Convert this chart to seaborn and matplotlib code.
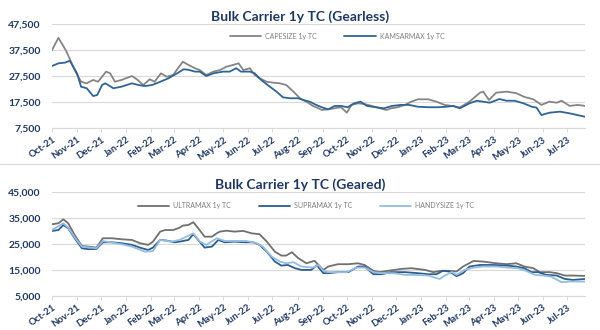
import matplotlib
matplotlib.use("Agg")
import matplotlib.pyplot as plt
import matplotlib.dates as mdates
from matplotlib.lines import Line2D
import pandas as pd
import seaborn as sns

# ---------------- data ----------------
cape_dates = ["2021-10-01", "2021-10-09", "2021-10-19", "2021-10-29", "2021-11-06", "2021-11-13",
              "2021-11-21", "2021-11-27", "2021-12-07", "2021-12-12", "2021-12-18", "2021-12-26",
              "2022-01-08", "2022-01-14", "2022-01-22", "2022-01-30", "2022-02-05", "2022-02-13",
              "2022-02-20", "2022-02-28", "2022-03-06", "2022-03-12", "2022-03-19", "2022-03-27",
              "2022-04-02", "2022-04-10", "2022-04-19", "2022-04-27", "2022-05-05", "2022-05-13",
              "2022-05-20", "2022-05-26", "2022-06-03", "2022-06-09", "2022-06-15", "2022-06-24",
              "2022-07-02", "2022-07-10", "2022-07-18", "2022-07-27", "2022-08-04", "2022-08-12",
              "2022-08-20", "2022-08-27", "2022-08-31", "2022-09-08", "2022-09-16", "2022-09-24",
              "2022-10-01", "2022-10-07", "2022-10-15", "2022-10-23", "2022-11-01", "2022-11-11",
              "2022-11-19", "2022-11-25", "2022-12-03", "2022-12-12", "2022-12-20", "2022-12-28",
              "2023-01-10", "2023-01-20", "2023-01-30", "2023-02-08", "2023-02-18", "2023-03-02",
              "2023-03-15", "2023-03-19", "2023-03-26", "2023-04-04", "2023-04-17", "2023-04-29",
              "2023-05-09", "2023-05-20", "2023-05-30", "2023-06-09", "2023-06-18", "2023-06-24",
              "2023-07-04", "2023-07-14", "2023-07-23"]
cape_vals = [37600, 42300, 37000, 29900, 25400, 24800,
             26100, 25400, 29300, 28650, 25400, 26100,
             27600, 26350, 24150, 26350, 25400, 28650,
             27350, 28000, 30600, 33100, 31850, 30600,
             29900, 28000, 29300, 29900, 31200, 31850,
             32500, 29900, 30600, 28000, 26700, 25400,
             25050, 24800, 24150, 21600, 19050, 17750,
             16100, 15200, 14550, 14800, 15200, 15600,
             13500, 16500, 17100, 16850, 16100, 15200,
             14550, 15200, 15600, 16500, 17750, 18650,
             18650, 17750, 16500, 16100, 15500, 17750,
             21200, 21600, 18400, 21200, 21600, 21000,
             19550, 18650, 16500, 17750, 17350, 18100,
             16100, 16500, 16100]

kamsar_dates = ["2021-10-01", "2021-10-09", "2021-10-17", "2021-10-23", "2021-11-01", "2021-11-06",
                "2021-11-13", "2021-11-21", "2021-11-26", "2021-12-02", "2021-12-06", "2021-12-16",
                "2021-12-26", "2022-01-08", "2022-01-16", "2022-01-24", "2022-02-02", "2022-02-12",
                "2022-02-22", "2022-03-05", "2022-03-13", "2022-03-19", "2022-03-27", "2022-04-02",
                "2022-04-10", "2022-04-19", "2022-05-01", "2022-05-09", "2022-05-17", "2022-05-23",
                "2022-06-03", "2022-06-09", "2022-06-17", "2022-06-25", "2022-07-06", "2022-07-14",
                "2022-07-23", "2022-08-02", "2022-08-08", "2022-08-16", "2022-08-24", "2022-08-31",
                "2022-09-08", "2022-09-16", "2022-09-24", "2022-10-02", "2022-10-10", "2022-10-18",
                "2022-10-26", "2022-11-06", "2022-11-16", "2022-11-26", "2022-12-07", "2022-12-17",
                "2022-12-28", "2023-01-10", "2023-01-22", "2023-02-01", "2023-02-10", "2023-02-18",
                "2023-03-02", "2023-03-11", "2023-03-27", "2023-04-08", "2023-04-17", "2023-04-27",
                "2023-05-08", "2023-05-18", "2023-05-24", "2023-05-30", "2023-06-09", "2023-06-22",
                "2023-07-04", "2023-07-23"]
kamsar_vals = [31450, 32500, 32750, 33500, 28650, 23500,
               22900, 19900, 20300, 24150, 24800, 22900,
               23500, 24800, 24150, 23750, 24150, 25400,
               26700, 28650, 30200, 30000, 29300, 29300,
               27600, 28650, 29300, 29300, 30600, 29300,
               29300, 28650, 26100, 24150, 21600, 19400,
               19050, 19050, 18400, 17750, 16500, 15600,
               14800, 16100, 16100, 15600, 17100, 17750,
               16100, 15600, 15200, 16100, 16500, 16500,
               15800, 15600, 15600, 15800, 16100, 15200,
               17100, 18100, 17350, 18750, 18100, 18100,
               17100, 15800, 15450, 12600, 13500, 13900,
               13250, 11950]

ultra_dates = ["2021-10-01", "2021-10-09", "2021-10-15", "2021-10-21", "2021-10-29", "2021-11-07",
               "2021-11-15", "2021-11-25", "2021-12-03", "2021-12-14", "2021-12-26", "2022-01-08",
               "2022-01-18", "2022-01-28", "2022-02-03", "2022-02-12", "2022-02-18", "2022-02-28",
               "2022-03-08", "2022-03-12", "2022-03-19", "2022-03-25", "2022-03-31", "2022-04-08",
               "2022-04-17", "2022-04-23", "2022-04-27", "2022-05-05", "2022-05-15", "2022-05-26",
               "2022-06-05", "2022-06-15", "2022-06-24", "2022-07-04", "2022-07-12", "2022-07-18",
               "2022-07-25", "2022-08-02", "2022-08-12", "2022-08-22", "2022-09-02", "2022-09-08",
               "2022-09-20", "2022-10-03", "2022-10-15", "2022-10-23", "2022-11-03", "2022-11-11",
               "2022-11-21", "2022-12-08", "2022-12-20", "2023-01-06", "2023-01-16", "2023-01-26",
               "2023-02-05", "2023-02-14", "2023-02-22", "2023-03-07", "2023-03-19", "2023-04-04",
               "2023-04-17", "2023-04-29", "2023-05-09", "2023-05-20", "2023-05-28", "2023-06-09",
               "2023-06-18", "2023-06-28", "2023-07-08", "2023-07-23"]
ultra_vals = [32500, 32900, 34400, 32900, 28400, 24200,
              23950, 23550, 27150, 27150, 26750, 26500,
              25250, 24600, 25850, 29700, 30300, 30300,
              31200, 32000, 32250, 33300, 31000, 27750,
              27750, 29050, 29700, 30050, 29700, 29950,
              29050, 28700, 25850, 22000, 20500, 20500,
              21800, 19500, 17550, 18500, 15000, 16300,
              17200, 17200, 17550, 16900, 14650, 14150,
              14650, 15400, 15650, 15000, 14150, 14650,
              14650, 14400, 16300, 18450, 18200, 17550,
              17200, 17550, 16300, 15650, 14150, 14150,
              13750, 12850, 12850, 12700]

supra_dates = ["2021-10-01", "2021-10-09", "2021-10-15", "2021-10-21", "2021-10-29", "2021-11-07",
               "2021-11-15", "2021-11-25", "2021-12-03", "2021-12-14", "2021-12-26", "2022-01-08",
               "2022-01-18", "2022-01-28", "2022-02-03", "2022-02-12", "2022-02-20", "2022-03-02",
               "2022-03-08", "2022-03-19", "2022-03-25", "2022-03-31", "2022-04-08", "2022-04-17",
               "2022-04-25", "2022-05-03", "2022-05-15", "2022-05-28", "2022-06-07", "2022-06-15",
               "2022-06-24", "2022-07-04", "2022-07-12", "2022-07-20", "2022-07-29", "2022-08-06",
               "2022-08-18", "2022-08-25", "2022-09-02", "2022-09-08", "2022-09-20", "2022-10-03",
               "2022-10-15", "2022-10-23", "2022-11-03", "2022-11-13", "2022-11-25", "2022-12-12",
               "2022-12-28", "2023-01-10", "2023-01-20", "2023-01-28", "2023-02-05", "2023-02-14",
               "2023-02-22", "2023-03-02", "2023-03-15", "2023-03-31", "2023-04-17", "2023-04-29",
               "2023-05-09", "2023-05-18", "2023-05-26", "2023-06-05", "2023-06-18", "2023-06-28",
               "2023-07-08", "2023-07-23"]
supra_vals = [29950, 30300, 32250, 31000, 27150, 23300,
              22950, 23050, 25600, 25600, 25250, 24600,
              23550, 22650, 23550, 26500, 26250, 25600,
              25850, 26500, 28700, 26500, 23550, 23950,
              26500, 25600, 25850, 25600, 25600, 24600,
              22000, 18200, 16650, 16900, 15650, 15000,
              15000, 16800, 13750, 13750, 14150, 14150,
              16300, 16300, 13350, 13350, 14150, 14150,
              13750, 13350, 13350, 14650, 14400, 12600,
              13750, 16300, 16900, 16900, 16650, 16300,
              15650, 14150, 14150, 13100, 12850, 11550,
              11150, 11550]

handy_dates = ["2021-10-01", "2021-10-15", "2021-10-21", "2021-10-29", "2021-11-07", "2021-11-25",
               "2021-12-03", "2021-12-26", "2022-01-08", "2022-01-24", "2022-02-03", "2022-02-12",
               "2022-02-26", "2022-03-08", "2022-03-25", "2022-04-02", "2022-04-10", "2022-04-23",
               "2022-05-03", "2022-05-15", "2022-05-30", "2022-06-11", "2022-06-19", "2022-06-30",
               "2022-07-10", "2022-07-18", "2022-07-27", "2022-08-06", "2022-08-20", "2022-08-27",
               "2022-09-02", "2022-09-08", "2022-09-20", "2022-10-01", "2022-10-13", "2022-10-23",
               "2022-11-03", "2022-11-13", "2022-11-29", "2022-12-12", "2022-12-24", "2023-01-10",
               "2023-01-18", "2023-01-24", "2023-02-01", "2023-02-08", "2023-02-14", "2023-02-24",
               "2023-03-07", "2023-03-19", "2023-04-04", "2023-04-19", "2023-05-01", "2023-05-11",
               "2023-05-22", "2023-06-01", "2023-06-11", "2023-06-24", "2023-07-04", "2023-07-23"]
handy_vals = [30300, 32900, 31200, 27500, 23950, 23300,
              26100, 24850, 23950, 22000, 22250, 26500,
              25850, 26500, 29050, 25850, 24600, 27150,
              26100, 26100, 26100, 25250, 23950, 20100,
              18200, 17550, 17950, 16300, 15900, 16900,
              14650, 14150, 14150, 14150, 15900, 15900,
              14150, 13750, 13750, 13100, 13100, 12850,
              12050, 11550, 13100, 14150, 13100, 15000,
              15900, 16300, 16300, 15900, 15650, 14650,
              13100, 12850, 12450, 10300, 10550, 10550]

top_title = "Bulk Carrier 1y TC (Gearless)"
bottom_title = "Bulk Carrier 1y TC (Geared)"
top_names = ["CAPESIZE 1y TC", "KAMSARMAX 1y TC"]
bottom_names = ["ULTRAMAX 1y TC", "SUPRAMAX 1y TC", "HANDYSIZE 1y TC"]
top_yticks = [7500, 17500, 27500, 37500, 47500]
bottom_yticks = [5000, 15000, 25000, 35000, 45000]

top_colors = ["#858585", "#2f6496"]
bottom_colors = ["#707070", "#2c5d8f", "#93bde3"]

NAVY = "#1f3864"


def long_frame(names, dates_list, vals_list):
    frames = []
    for n, d, v in zip(names, dates_list, vals_list):
        frames.append(pd.DataFrame({"date": pd.to_datetime(d), "value": v, "series": n}))
    return pd.concat(frames, ignore_index=True)


df_top = long_frame(top_names, [cape_dates, kamsar_dates], [cape_vals, kamsar_vals])
df_bot = long_frame(bottom_names, [ultra_dates, supra_dates, handy_dates],
                    [ultra_vals, supra_vals, handy_vals])

sns.set_theme(style="white")
plt.rcParams["font.family"] = ["Lato", "DejaVu Sans"]

fig = plt.figure(figsize=(6, 3.3), dpi=100)
W, H = 600.0, 330.0
ax1 = fig.add_axes([52 / W, 1 - 128.3 / H, 533 / W, 104.0 / H])
ax2 = fig.add_axes([52 / W, 1 - 296.0 / H, 533 / W, 104.3 / H])

x0 = pd.Timestamp("2021-10-01")
x1 = pd.Timestamp("2023-07-23")


def style(ax, df, names, colors, yticks, title, title_y, legend_center, legend_y):
    sns.lineplot(data=df, x="date", y="value", hue="series", hue_order=names,
                 palette=colors, ax=ax, linewidth=1.3, legend=False, estimator=None,
                 sort=True)
    ax.set_xlim(x0, x1)
    ax.set_ylim(yticks[0], yticks[-1])
    ax.set_yticks(yticks)
    ax.set_yticklabels([f"{t:,}" for t in yticks], fontsize=7.5, fontweight="bold", color=NAVY)
    ax.grid(axis="y", color="#d9d9d9", linewidth=0.8)
    ax.set_axisbelow(True)
    for s in ["top", "right", "left"]:
        ax.spines[s].set_visible(False)
    ax.spines["bottom"].set_color("#d9d9d9")
    ax.spines["bottom"].set_linewidth(0.8)
    ax.xaxis.set_major_locator(mdates.MonthLocator())
    ax.xaxis.set_major_formatter(mdates.DateFormatter("%b-%y"))
    ax.tick_params(axis="x", length=3, width=0.7, color="#d9d9d9", pad=2, bottom=True)
    ax.tick_params(axis="y", length=0, pad=8)
    for lab in ax.get_xticklabels():
        lab.set_rotation(35)
        lab.set_ha("right")
        lab.set_rotation_mode("anchor")
        lab.set_fontsize(6.8)
        lab.set_fontweight("bold")
        lab.set_color(NAVY)
    ax.set_xlabel("")
    ax.set_ylabel("")
    fig.text(0.5, title_y, title, ha="center", va="center", fontsize=10,
             fontweight="bold", color=NAVY)
    handles = [Line2D([0], [0], color=c, lw=1.3) for c in colors]
    fig.legend(handles, names, loc="center", bbox_to_anchor=(legend_center, legend_y),
               ncol=len(names), frameon=False, fontsize=5, labelcolor="#7f7f7f",
               handlelength=4.5, columnspacing=4.0, handletextpad=0.6)


style(ax1, df_top, top_names, top_colors, top_yticks, top_title, 1 - 17 / H, 337 / W, 1 - 36 / H)
style(ax2, df_bot, bottom_names, bottom_colors, bottom_yticks, bottom_title, 1 - 185 / H, 306 / W, 1 - 205.5 / H)

# thin separator between the two panels
fig.add_artist(Line2D([0, 1], [1 - 163.5 / H, 1 - 163.5 / H], transform=fig.transFigure,
                      color="#d9d9d9", lw=0.8))

fig.savefig("out.png", dpi=100, facecolor="white")
